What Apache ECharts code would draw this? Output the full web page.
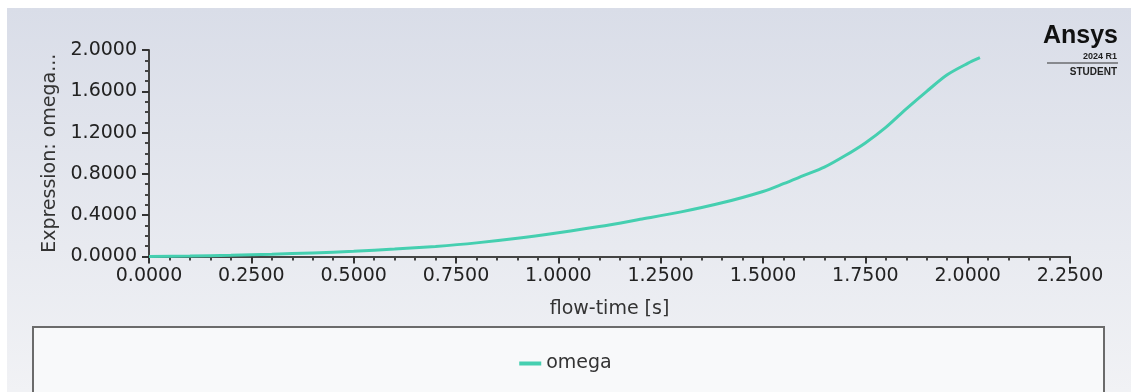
<!DOCTYPE html>
<html>
<head>
<meta charset="utf-8">
<script src="https://cdn.jsdelivr.net/npm/echarts@6/dist/echarts.min.js"></script>
<style>
html,body{margin:0;padding:0;background:#fff;}
#c{width:1131px;height:392px;}
</style>
</head>
<body>
<div id="c"></div>
<script>
const seriesName = 'omega';
const xAxisName = 'flow-time [s]';
const yAxisName = 'Expression: omega...';
const flowTime = [0, 0.1, 0.2, 0.3, 0.4, 0.5, 0.6, 0.7, 0.8, 0.9, 1.0, 1.1, 1.2, 1.3, 1.4, 1.5, 1.55, 1.6, 1.65, 1.7, 1.75, 1.8, 1.85, 1.9, 1.95, 2.0, 2.03];
const omega = [0.0, 0.005, 0.012, 0.022, 0.035, 0.050, 0.072, 0.098, 0.132, 0.176, 0.230, 0.290, 0.360, 0.432, 0.520, 0.630, 0.705, 0.785, 0.865, 0.975, 1.100, 1.250, 1.430, 1.600, 1.760, 1.870, 1.925];
const xMin = 0, xMax = 2.25, xStep = 0.25;
const yMin = 0, yMax = 2.0, yStep = 0.4;

const FONT = '"DejaVu Sans", Verdana, sans-serif';
const LOGO = '"Liberation Sans", Arial, sans-serif';
const chart = echarts.init(document.getElementById('c'), null, {renderer: 'canvas'});
const pts = flowTime.map((x, i) => [x, omega[i]]);

chart.setOption({
  animation: false,
  textStyle: {fontFamily: FONT},
  graphic: [
    {type: 'rect', z: -10, shape: {x: 7, y: 8, width: 1124, height: 384},
      style: {fill: {type: 'linear', x: 0, y: 0, x2: 0, y2: 1, colorStops: [
        {offset: 0, color: '#d9dde8'}, {offset: 1, color: '#f1f2f5'}]}}},
    {type: 'rect', z: -5, shape: {x: 33, y: 327, width: 1071, height: 90},
      style: {fill: '#f8f9fa', stroke: '#6b6b6b', lineWidth: 2}},
    {type: 'text', right: 13, top: 24, style: {text: 'Ansys', font: 'bold 25px ' + LOGO, fill: '#111'}},
    {type: 'text', right: 14, top: 52, style: {text: '2024 R1', font: 'bold 9px ' + LOGO, fill: '#222'}},
    {type: 'line', shape: {x1: 1047, y1: 63, x2: 1118, y2: 63}, style: {stroke: '#333', lineWidth: 1}},
    {type: 'text', right: 14, top: 67, style: {text: 'STUDENT', font: 'bold 10px ' + LOGO, fill: '#222'}}
  ],
  grid: {left: 149, right: 61, top: 50, bottom: 135.5, containLabel: false},
  legend: {
    data: [seriesName], left: 'center', top: 349,
    icon: 'rect', itemWidth: 22, itemHeight: 4, itemGap: 10,
    textStyle: {fontSize: 19, color: '#333', fontFamily: FONT}
  },
  xAxis: {
    type: 'value', min: xMin, max: xMax, interval: xStep,
    name: xAxisName, nameLocation: 'middle', nameGap: 43,
    nameTextStyle: {fontSize: 19, color: '#333', fontFamily: FONT},
    axisLine: {lineStyle: {color: '#444', width: 2}},
    axisTick: {show: true, inside: false, length: 7, lineStyle: {color: '#333', width: 2}},
    minorTick: {show: true, splitNumber: 5, length: 4, lineStyle: {color: '#444', width: 2}},
    splitLine: {show: false},
    axisLabel: {margin: 10, fontSize: 19, color: '#222', fontFamily: FONT,
      formatter: v => v.toFixed(4)}
  },
  yAxis: {
    type: 'value', min: yMin, max: yMax, interval: yStep,
    name: yAxisName, nameLocation: 'middle', nameGap: 85,
    nameTextStyle: {fontSize: 19, color: '#333', fontFamily: FONT},
    axisLine: {show: true, lineStyle: {color: '#444', width: 2}},
    axisTick: {show: true, inside: false, length: 7, lineStyle: {color: '#333', width: 2}},
    minorTick: {show: true, splitNumber: 4, length: 4, lineStyle: {color: '#444', width: 2}},
    splitLine: {show: false},
    axisLabel: {margin: 12, fontSize: 19, color: '#222', fontFamily: FONT,
      formatter: v => v.toFixed(4)}
  },
  series: [{
    name: seriesName, type: 'line', data: pts, smooth: 0.3, showSymbol: false,
    lineStyle: {color: '#45cfb0', width: 3}, itemStyle: {color: '#45cfb0'}
  }]
});
</script>
</body>
</html>
